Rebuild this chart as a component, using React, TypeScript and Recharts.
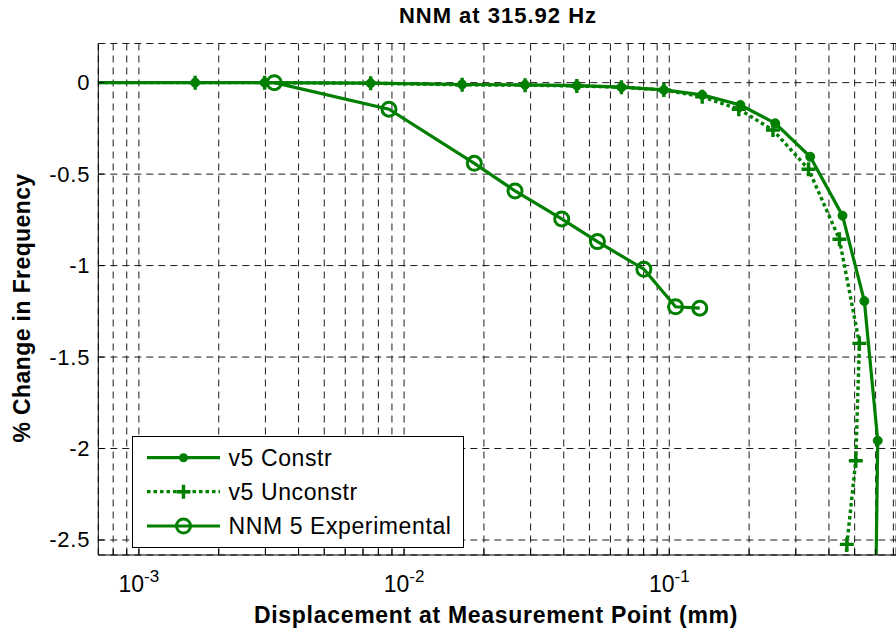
import React from "react";
import { LineChart, Line, XAxis, YAxis, CartesianGrid, Legend, Customized } from "recharts";

// v5 Constr (solid, filled dots)
const constrX = [0.0005, 0.00163, 0.00298, 0.00748, 0.01655, 0.0286, 0.0448, 0.066, 0.0954, 0.1331, 0.1855, 0.251, 0.34, 0.45, 0.544, 0.611, 0.585];
const constrY = [0, 0, 0, -0.003, -0.01, -0.012, -0.016, -0.025, -0.04, -0.067, -0.122, -0.222, -0.405, -0.727, -1.194, -1.957, -4.0];

// v5 Unconstr (dotted, plus markers)
const unconstrX = [0.0005, 0.00163, 0.00298, 0.00748, 0.01655, 0.0286, 0.0448, 0.066, 0.0954, 0.1331, 0.1828, 0.246, 0.335, 0.438, 0.521, 0.505, 0.4674, 0.455];
const unconstrY = [0, 0, 0, -0.003, -0.012, -0.014, -0.018, -0.025, -0.04, -0.077, -0.145, -0.259, -0.473, -0.856, -1.425, -2.067, -2.524, -2.8];

// NNM 5 Experimental (solid, open circles)
const expX = [0.00324, 0.00877, 0.0184, 0.0262, 0.0393, 0.0536, 0.0802, 0.1056, 0.1303];
const expY = [0, -0.145, -0.441, -0.592, -0.745, -0.869, -1.02, -1.225, -1.233];

const seriesNames = ["v5 Constr", "v5 Unconstr", "NNM 5 Experimental"];

const xTicks = [
  0.0008, 0.0009, 0.001, 0.002, 0.003, 0.004, 0.005, 0.006, 0.007, 0.008, 0.009,
  0.01, 0.02, 0.03, 0.04, 0.05, 0.06, 0.07, 0.08, 0.09,
  0.1, 0.2, 0.3, 0.4, 0.5, 0.6, 0.7,
];
const xDecades = [0.001, 0.01, 0.1];
const xDecadeExp = ["-3", "-2", "-1"];
const yTicks = [-2.5, -2, -1.5, -1, -0.5, 0];
const yTickLabels = ["-2.5", "-2", "-1.5", "-1", "-0.5", "0"];

const GREEN = "#007f00";
const FONT = '"Liberation Sans", Arial, Helvetica, sans-serif';

const toRows = (xs: number[], ys: number[]) => xs.map((x, i) => ({ x, y: ys[i] }));

const XTick = (props: any) => {
  const { x, y, payload } = props;
  const k = xDecades.indexOf(payload.value);
  return (
    <g>
      <line x1={x} x2={x} y1={y} y2={y - 6} stroke="#000" strokeWidth={1} />
      {k >= 0 && (
        <text x={x} y={y + 37} textAnchor="middle" fontSize={23} fontFamily={FONT} fill="#000">
          10
          <tspan dy={-10} fontSize={17}>{xDecadeExp[k]}</tspan>
        </text>
      )}
    </g>
  );
};

const YTick = (props: any) => {
  const { x, y, payload } = props;
  const k = yTicks.indexOf(payload.value);
  return (
    <g>
      <line x1={x} x2={x + 6} y1={y} y2={y} stroke="#000" strokeWidth={1} />
      <text x={x - 8} y={y + 7.5} textAnchor="end" fontSize={22} letterSpacing={0.8} fontFamily={FONT} fill="#000">
        {yTickLabels[k]}
      </text>
    </g>
  );
};

const PlusDot = (props: any) => {
  const { cx, cy, index } = props;
  if (cx == null || cy == null) return <g key={`p${index}`} />;
  return (
    <path
      key={`p${index}`}
      d={`M${cx - 7},${cy}H${cx + 7}M${cx},${cy - 7}V${cy + 7}`}
      stroke={GREEN}
      strokeWidth={3.4}
      fill="none"
    />
  );
};

const Titles = () => (
  <g fontFamily={FONT} fill="#000" fontWeight="bold">
    <text x={498} y={23} textAnchor="middle" fontSize={22} letterSpacing={1}>
      NNM at 315.92 Hz
    </text>
    <text x={496} y={623} textAnchor="middle" fontSize={23} letterSpacing={0.7}>
      Displacement at Measurement Point (mm)
    </text>
    <text transform="translate(30,308) rotate(-90)" textAnchor="middle" fontSize={23} letterSpacing={0.4}>
      % Change in Frequency
    </text>
  </g>
);

const LegendBox = () => {
  const rows = [21.7, 55.7, 90];
  return (
    <svg width={332} height={112} style={{ display: "block" }}>
      <rect x={0.5} y={0.5} width={331} height={111} fill="#fff" stroke="#000" strokeWidth={1} />
      {rows.map((ry, i) => (
        <g key={i}>
          <line
            x1={15}
            x2={88}
            y1={ry}
            y2={ry}
            stroke={GREEN}
            strokeWidth={3.2}
            strokeDasharray={i === 1 ? "3.5 3" : undefined}
          />
          {i === 0 && <circle cx={51.5} cy={ry} r={4.5} fill={GREEN} />}
          {i === 1 && <PlusDot cx={51.5} cy={ry} index={0} />}
          {i === 2 && <circle cx={51.5} cy={ry} r={7} fill="none" stroke={GREEN} strokeWidth={3} />}
          <text x={96.5} y={ry + 8} fontSize={23} letterSpacing={0.6} fontFamily={FONT} fill="#000">
            {seriesNames[i]}
          </text>
        </g>
      ))}
    </svg>
  );
};

export default function App() {
  return (
    <div style={{ position: "absolute", left: 0, top: 0, width: 896, height: 634, background: "#fff" }}>
      <LineChart
        width={896}
        height={634}
        margin={{ top: 43.5, right: 0, bottom: 0, left: 8 }}
        style={{ fontFamily: FONT }}
      >
        <CartesianGrid stroke="#1a1a1a" strokeDasharray="7 5" strokeWidth={1} />
        <XAxis
          type="number"
          dataKey="x"
          scale="log"
          domain={[0.000703, 0.716]}
          allowDataOverflow
          ticks={xTicks}
          interval={0}
          height={79}
          tickSize={0}
          tickMargin={0}
          tickLine={false}
          axisLine={{ stroke: "#000", strokeWidth: 1 }}
          tick={<XTick />}
        />
        <YAxis
          type="number"
          dataKey="y"
          domain={[-2.582, 0.214]}
          allowDataOverflow
          ticks={yTicks}
          interval={0}
          width={90.3}
          tickSize={0}
          tickMargin={0}
          tickLine={false}
          axisLine={{ stroke: "#000", strokeWidth: 1 }}
          tick={<YTick />}
        />
        <Line
          data={toRows(constrX, constrY)}
          dataKey="y"
          name={seriesNames[0]}
          type="linear"
          stroke={GREEN}
          strokeWidth={3.2}
          dot={{ r: 4.5, fill: GREEN, stroke: GREEN, strokeWidth: 1 }}
          activeDot={false}
          isAnimationActive={false}
        />
        <Line
          data={toRows(unconstrX, unconstrY)}
          dataKey="y"
          name={seriesNames[1]}
          type="linear"
          stroke={GREEN}
          strokeWidth={3.4}
          strokeDasharray="3.5 3"
          dot={PlusDot}
          activeDot={false}
          isAnimationActive={false}
        />
        <Line
          data={toRows(expX, expY)}
          dataKey="y"
          name={seriesNames[2]}
          type="linear"
          stroke={GREEN}
          strokeWidth={3.2}
          dot={{ r: 7, fill: "none", stroke: GREEN, strokeWidth: 3 }}
          activeDot={false}
          isAnimationActive={false}
        />
        <Legend
          layout="vertical"
          align="center"
          verticalAlign="middle"
          wrapperStyle={{ left: 131.7, top: 436, width: 332, height: 112 }}
          content={() => <LegendBox />}
        />
        <Customized component={Titles} />
      </LineChart>
    </div>
  );
}
